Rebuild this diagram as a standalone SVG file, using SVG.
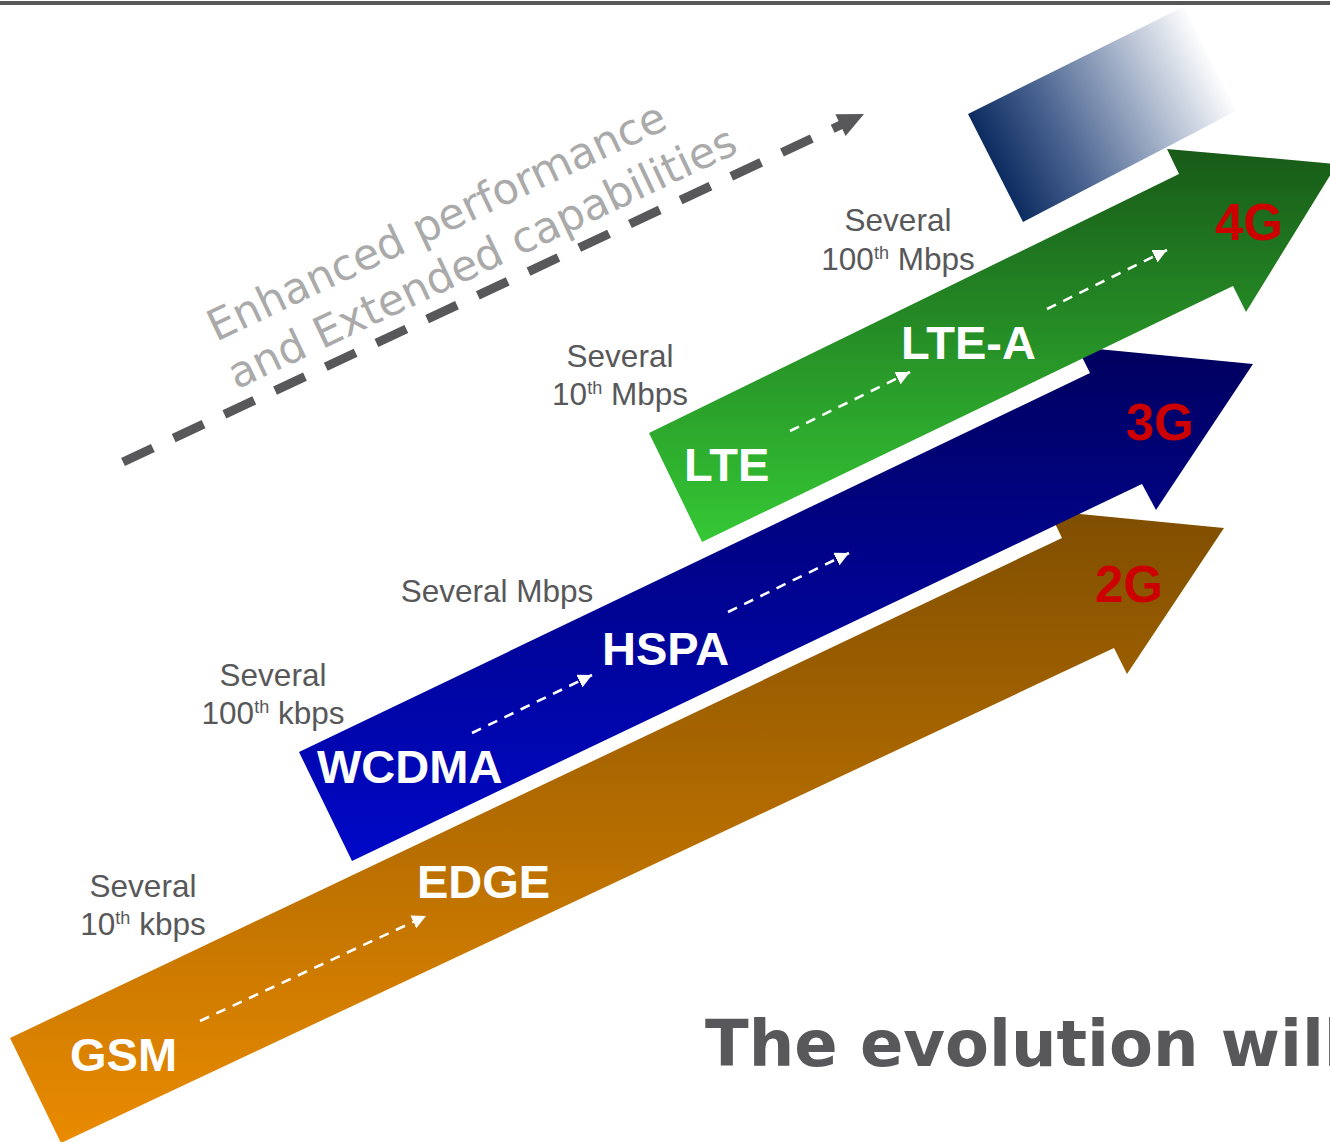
<svg xmlns="http://www.w3.org/2000/svg" width="1330" height="1142" viewBox="0 0 1330 1142">
<style>
.lbl{font-family:"Liberation Sans",Arial,sans-serif;font-weight:bold;font-size:47px;fill:#ffffff}
.gen{font-family:"Liberation Sans",Arial,sans-serif;font-weight:bold;font-size:51px;fill:#cc0000}
.rate{font-family:"Liberation Sans",Arial,sans-serif;font-size:31.5px;fill:#58585a;text-anchor:middle}
.sup{font-size:18px}
.enh{font-family:"DejaVu Sans",sans-serif;font-size:43px;fill:#aaaaaa}
.title{font-family:"DejaVu Sans",sans-serif;font-weight:bold;font-size:64px;fill:#58585a}
.wdash{fill:none;stroke:#ffffff;stroke-width:2.6;stroke-dasharray:10 8}
</style>
<defs>
<linearGradient id="gOrange" gradientUnits="userSpaceOnUse" x1="0" y1="511" x2="0" y2="1143">
<stop offset="0" stop-color="#7f4e00"/><stop offset="1" stop-color="#ea8b00"/>
</linearGradient>
<linearGradient id="gBlue" gradientUnits="userSpaceOnUse" x1="0" y1="347" x2="0" y2="862">
<stop offset="0" stop-color="#00005e"/><stop offset="1" stop-color="#0008c8"/>
</linearGradient>
<linearGradient id="gGreen" gradientUnits="userSpaceOnUse" x1="0" y1="149" x2="0" y2="542">
<stop offset="0" stop-color="#185a18"/><stop offset="1" stop-color="#35c835"/>
</linearGradient>
<linearGradient id="gFade" gradientUnits="userSpaceOnUse" x1="995" y1="168" x2="1212" y2="58">
<stop offset="0" stop-color="#0c2b60"/><stop offset="0.3" stop-color="#4a6390"/><stop offset="0.65" stop-color="#a3b1c8"/><stop offset="1" stop-color="#ffffff"/>
</linearGradient>
<marker id="wh" markerUnits="userSpaceOnUse" markerWidth="16" markerHeight="14" refX="14" refY="7" orient="auto" viewBox="0 0 16 14">
<path d="M0,0 L14,7 L0,14 Z" fill="#ffffff"/>
</marker>
</defs>
<line x1="0" y1="3" x2="1330" y2="3" stroke="#58585a" stroke-width="4"/>
<g id="fade-box">
<polygon points="968,114 1185,6 1238,110 1023,222" fill="url(#gFade)"/>
</g>
<g id="arrow-2g">
<polygon points="10,1038 1062,538 1049,511 1224,528 1127,674 1114,648 61,1143" fill="url(#gOrange)"/>
<text class="lbl" x="70" y="1071">GSM</text>
<text class="lbl" x="417" y="898">EDGE</text>
<text class="gen" x="1095" y="602">2G</text>
</g>
<g id="arrow-3g">
<polygon points="299,752 1090,373 1077,347 1253,364 1156,510 1142,484 352,861" fill="url(#gBlue)"/>
<text class="lbl" x="317" y="783">WCDMA</text>
<text class="lbl" x="602" y="665">HSPA</text>
<text class="gen" x="1126" y="440">3G</text>
</g>
<g id="arrow-4g">
<polygon points="649,433 1179,174 1167,149 1337,164 1246,312 1233,286 702,542" fill="url(#gGreen)"/>
<text class="lbl" x="684" y="481">LTE</text>
<text class="lbl" x="901" y="359">LTE-A</text>
<text class="gen" x="1215" y="240">4G</text>
</g>
<g id="connectors">
<line class="wdash" x1="200" y1="1021" x2="426" y2="916" marker-end="url(#wh)"/>
<line class="wdash" x1="472" y1="733" x2="592" y2="675" marker-end="url(#wh)"/>
<line class="wdash" x1="728" y1="612" x2="849" y2="553" marker-end="url(#wh)"/>
<line class="wdash" x1="790" y1="431" x2="910" y2="372" marker-end="url(#wh)"/>
<line class="wdash" x1="1047" y1="309" x2="1167" y2="250" marker-end="url(#wh)"/>
<line x1="123" y1="462" x2="847" y2="122" stroke="#58585a" stroke-width="9" stroke-dasharray="33 23"/>
<polygon points="864,114 835.4,114.3 845.6,136" fill="#58585a"/>
</g>
<g id="enhanced-label" transform="translate(216,342) rotate(-25.3)">
<text class="enh" x="0" y="0">Enhanced performance</text>
<text class="enh" x="-2" y="52">and Extended capabilities</text>
</g>
<g id="rates">
<text class="rate" x="143" y="897">Several</text>
<text class="rate" x="143" y="935">10<tspan class="sup" dy="-11">th</tspan><tspan dy="11"> kbps</tspan></text>
<text class="rate" x="273" y="686">Several</text>
<text class="rate" x="273" y="724">100<tspan class="sup" dy="-11">th</tspan><tspan dy="11"> kbps</tspan></text>
<text class="rate" x="497" y="602">Several Mbps</text>
<text class="rate" x="620" y="367">Several</text>
<text class="rate" x="620" y="405">10<tspan class="sup" dy="-11">th</tspan><tspan dy="11"> Mbps</tspan></text>
<text class="rate" x="898" y="231">Several</text>
<text class="rate" x="898" y="270">100<tspan class="sup" dy="-11">th</tspan><tspan dy="11"> Mbps</tspan></text>
</g>
<text class="title" x="705" y="1066">The evolution will</text>
</svg>
